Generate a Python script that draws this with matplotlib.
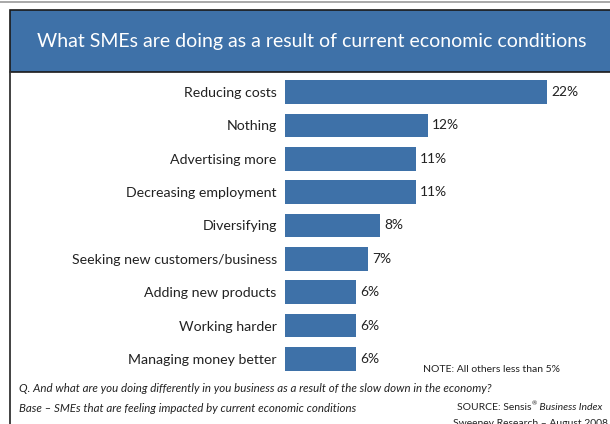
import matplotlib
matplotlib.use("Agg")
import matplotlib.pyplot as plt
from matplotlib.patches import Rectangle
from matplotlib.lines import Line2D

plt.rcParams['font.family'] = ['Lato', 'DejaVu Sans']

categories = [
    "Reducing costs",
    "Nothing",
    "Advertising more",
    "Decreasing employment",
    "Diversifying",
    "Seeking new customers/business",
    "Adding new products",
    "Working harder",
    "Managing money better",
]
values = [22, 12, 11, 11, 8, 7, 6, 6, 6]
value_labels = ["22%", "12%", "11%", "11%", "8%", "7%", "6%", "6%", "6%"]

title = "What SMEs are doing as a result of current economic conditions"
note = "NOTE: All others less than 5%"
question = "Q. And what are you doing differently in you business as a result of the slow down in the economy?"
base = "Base \u2013 SMEs that are feeling impacted by current economic conditions"
source_plain = "SOURCE: Sensis"
source_reg = "\u00ae"
source_italic = " Business Index"
source2 = "Sweeney Research \u2013 August 2008"

W, H = 610, 424
BLUE = "#3E71A8"
TXT = "#222222"

fig = plt.figure(figsize=(W / 100, H / 100), dpi=100)
fig.patch.set_facecolor("white")
renderer = fig.canvas.get_renderer()


def fx(px):
    return px / W


def fy(py):
    return 1 - py / H


def fit_width(txt, target_px):
    """Scale a text's font size so its drawn width equals target_px."""
    w = txt.get_window_extent(renderer).width
    txt.set_fontsize(txt.get_fontsize() * target_px / w)


# frame: thin grey rule at top, header band and left rule
fig.add_artist(Line2D([0, 1], [fy(1.5), fy(1.5)], color="#9a9a9a", lw=1.2))
fig.add_artist(Rectangle((fx(9.5), fy(72)), fx(620) - fx(9.5), fy(10) - fy(72),
                         facecolor=BLUE, edgecolor="#1a1a1a", lw=1.2,
                         transform=fig.transFigure))
fig.add_artist(Line2D([fx(9.5), fx(9.5)], [fy(72), 0], color="#333333", lw=1.3))
t_title = fig.text(fx(312), fy(42), title, color="white", fontsize=15,
                   ha="center", va="center")
fit_width(t_title, 549)

# bar chart
ax = fig.add_axes([fx(285), fy(376), fx(610) - fx(285), fy(75) - fy(376)])
ypos = list(range(len(categories)))
ax.barh(ypos, values, height=0.71, color=BLUE)
ax.set_xlim(0, (610 - 285) / 11.9)
ax.set_ylim(8.51, -0.509)
ax.set_yticks(ypos)
ax.set_yticklabels(categories, fontsize=11, color=TXT)
ax.tick_params(axis="y", length=0, pad=6)
ax.set_xticks([])
for s in ax.spines.values():
    s.set_visible(False)
ax.patch.set_alpha(0)

probe = fig.text(0, 0, categories[5], fontsize=11)
fit_width(probe, 206)
label_size = probe.get_fontsize()
probe.remove()
for lab in ax.get_yticklabels():
    lab.set_fontsize(label_size)

vprobe = fig.text(0, 0, value_labels[0], fontsize=11)
fit_width(vprobe, 27)
value_size = vprobe.get_fontsize()
vprobe.remove()
for y, v, lab in zip(ypos, values, value_labels):
    ax.annotate(lab, (v, y), xytext=(3, 0), textcoords="offset points",
                ha="left", va="center", fontsize=value_size, color=TXT)

# footnotes
t_note = fig.text(fx(423), fy(369), note, fontsize=8.5, color=TXT, va="center")
fit_width(t_note, 137)
t_q = fig.text(fx(19), fy(388), question, fontsize=8.5, color=TXT,
               va="center", style="italic")
fit_width(t_q, 471)
t_b = fig.text(fx(19), fy(408), base, fontsize=t_q.get_fontsize(), color=TXT,
               va="center", style="italic")

src_size = t_note.get_fontsize()
t_si = fig.text(fx(602), fy(408), source_italic, fontsize=src_size, color=TXT,
                va="center", ha="right", style="italic")
x_reg = 602 - t_si.get_window_extent(renderer).width
t_reg = fig.text(fx(x_reg), fy(404), source_reg, fontsize=src_size * 0.6,
                 color=TXT, va="center", ha="right")
x_plain = x_reg - t_reg.get_window_extent(renderer).width
fig.text(fx(x_plain), fy(408), source_plain, fontsize=src_size, color=TXT,
         va="center", ha="right")
fig.text(fx(608), fy(424), source2, fontsize=src_size, color=TXT,
         va="center", ha="right")

fig.savefig("out.png", dpi=100, facecolor="white")
